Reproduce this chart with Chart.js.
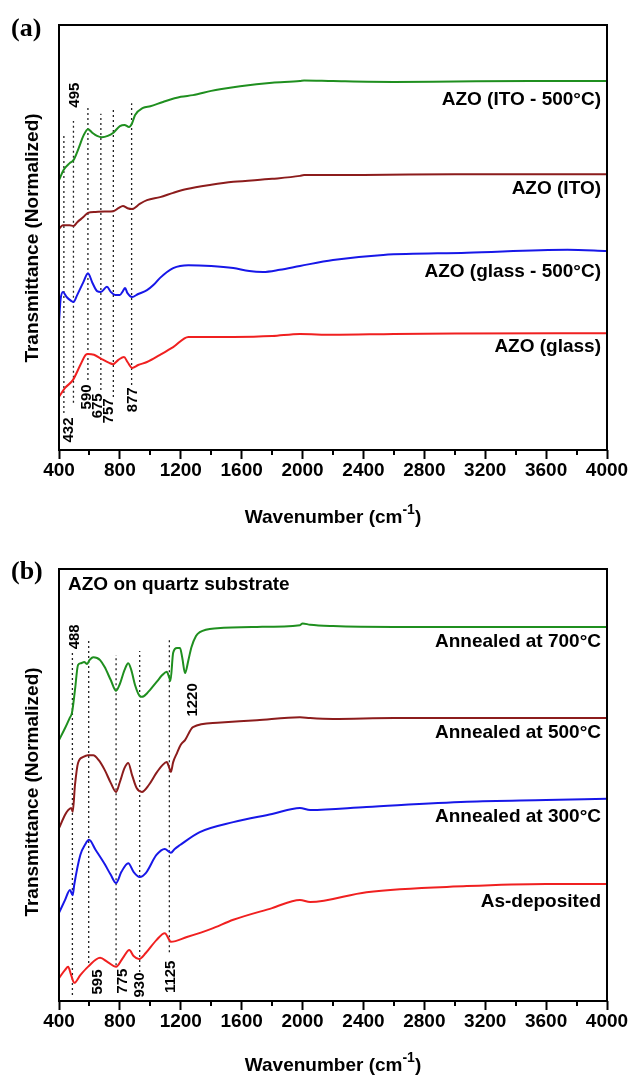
<!DOCTYPE html>
<html>
<head>
<meta charset="utf-8">
<script src="https://cdn.jsdelivr.net/npm/chart.js@4.4.0/dist/chart.umd.min.js"></script>
<style>
  body { margin: 0; background: #fff; width: 630px; height: 1077px; overflow: hidden; }
  .panel { position: absolute; left: 0; width: 630px; }
  #wrapA { top: 0; height: 540px; }
  #wrapB { top: 540px; height: 537px; }
</style>
</head>
<body>
<div class="panel" id="wrapA"><canvas id="chartA" width="630" height="540"></canvas></div>
<div class="panel" id="wrapB"><canvas id="chartB" width="630" height="537"></canvas></div>
<script>
// ---------- panel (a): AZO on glass / ITO ----------
const wnA_ito500 = [400, 430, 470, 495, 530, 560, 590, 620, 650, 682, 720, 755, 800, 830, 860, 880, 900, 952, 1000, 1083, 1200, 1280, 1400, 1458, 1590, 1800, 1983, 2010, 2200, 2600, 3000, 3500, 4000];
const tA_ito500  = [63.5, 65.9, 67.5, 68.2, 71.1, 73.9, 75.5, 74.6, 73.9, 73.6, 73.9, 74.6, 76.2, 76.5, 76.0, 76.9, 78.8, 80.5, 80.9, 81.9, 83.1, 83.5, 84.5, 84.9, 85.6, 86.4, 86.8, 86.95, 86.8, 86.6, 86.7, 86.8, 86.8];

const wnA_ito = [400, 425, 470, 495, 520, 560, 590, 640, 700, 757, 790, 820, 850, 880, 930, 978, 1064, 1150, 1240, 1400, 1545, 1800, 1983, 2010, 2400, 3000, 4000];
const tA_ito  = [52.0, 52.9, 52.9, 52.7, 53.6, 54.8, 55.8, 56.0, 56.1, 56.2, 56.9, 57.4, 56.9, 56.7, 57.9, 58.8, 59.5, 60.5, 61.4, 62.4, 63.1, 63.8, 64.5, 64.7, 64.7, 64.9, 64.9];

const wnA_glass500 = [400, 410, 426, 450, 480, 495, 520, 560, 590, 620, 650, 675, 715, 740, 768, 800, 820, 834, 850, 880, 920, 978, 1020, 1064, 1150, 1250, 1400, 1545, 1650, 1740, 1850, 1983, 2200, 2530, 3080, 3740, 4000];
const tA_glass500  = [30.1, 35.3, 37.2, 36.0, 35.1, 34.8, 36.5, 39.5, 41.6, 39.3, 37.4, 37.2, 38.4, 37.2, 36.5, 36.5, 37.4, 38.1, 36.9, 36.0, 36.7, 37.6, 38.8, 40.5, 42.8, 43.5, 43.3, 42.8, 42.1, 41.9, 42.4, 43.3, 44.7, 45.9, 46.4, 47.1, 46.8];

const wnA_glass = [400, 440, 492, 540, 575, 590, 630, 680, 730, 755, 790, 827, 850, 880, 920, 978, 1064, 1150, 1250, 1545, 1800, 1983, 2200, 2600, 3000, 4000];
const tA_glass  = [12.5, 14.6, 16.5, 20.0, 22.4, 22.6, 22.4, 21.4, 20.5, 20.2, 21.2, 21.9, 20.7, 19.3, 20.0, 20.7, 22.4, 24.2, 26.6, 26.6, 26.8, 27.3, 27.1, 27.3, 27.4, 27.5];

const namesA  = ['AZO (ITO - 500°C)', 'AZO (ITO)', 'AZO (glass - 500°C)', 'AZO (glass)'];
const peaksA      = [432, 495, 590, 675, 757, 877];
const peakTopA    = [74.1, 77.4, 80.9, 79.1, 80.7, 81.6];
const peakBottomA = [8.7, 11.1, 16.5, 14.1, 12.5, 15.3];

// ---------- panel (b): AZO on quartz ----------
const wnB_700 = [400, 440, 470, 485, 505, 525, 545, 565, 585, 600, 625, 650, 670, 700, 740, 775, 800, 830, 855, 875, 900, 930, 945, 980, 1040, 1080, 1108, 1125, 1132, 1150, 1175, 1195, 1210, 1228, 1250, 1270, 1300, 1325, 1440, 1700, 1983, 2000, 2050, 2200, 2600, 3000, 4000];
const tB_700  = [60.4, 63.2, 65.5, 66.7, 72.0, 77.8, 78.2, 78.5, 78.0, 78.9, 79.6, 79.4, 78.9, 77.3, 74.3, 71.8, 73.4, 76.6, 78.2, 76.6, 73.1, 70.6, 70.4, 71.3, 73.8, 75.5, 76.2, 74.8, 74.1, 80.6, 81.7, 81.7, 79.4, 75.9, 78.9, 81.9, 84.5, 85.4, 86.3, 86.6, 87.0, 87.4, 87.1, 86.8, 86.6, 86.6, 86.6];

const wnB_500 = [400, 440, 460, 480, 490, 505, 525, 560, 590, 625, 660, 700, 740, 775, 800, 830, 855, 880, 910, 945, 990, 1040, 1080, 1108, 1125, 1135, 1150, 1175, 1200, 1228, 1280, 1440, 1700, 1983, 2050, 2200, 2600, 3000, 4000];
const tB_500  = [40.0, 43.1, 44.2, 44.7, 43.8, 50.0, 55.1, 56.5, 56.9, 56.9, 55.8, 53.5, 50.5, 48.4, 50.7, 53.9, 55.1, 52.3, 49.3, 48.4, 50.0, 52.8, 54.6, 55.3, 53.9, 53.0, 55.3, 57.4, 59.3, 60.4, 63.4, 64.4, 65.0, 65.7, 65.5, 65.3, 65.5, 65.5, 65.5];

const wnB_300 = [400, 440, 472, 490, 500, 540, 570, 597, 640, 700, 740, 775, 810, 855, 890, 930, 970, 1040, 1095, 1125, 1135, 1160, 1195, 1325, 1545, 1800, 1983, 2050, 2420, 3080, 3600, 4000];
const tB_300  = [20.4, 23.4, 25.7, 24.5, 26.9, 33.8, 36.1, 37.3, 35.0, 31.7, 29.2, 27.3, 29.9, 31.9, 29.9, 28.7, 29.6, 33.8, 35.2, 34.5, 34.3, 35.2, 36.1, 39.1, 41.4, 43.3, 44.7, 44.2, 44.9, 46.1, 46.5, 46.8];

const wnB_asdep = [400, 440, 460, 480, 500, 540, 590, 670, 720, 775, 820, 862, 890, 925, 970, 1040, 1095, 1125, 1135, 1240, 1400, 1545, 1800, 1983, 2050, 2420, 3080, 3600, 4000];
const tB_asdep  = [5.3, 7.2, 7.9, 6.0, 4.2, 6.0, 7.9, 10.0, 9.0, 7.9, 10.0, 11.8, 10.4, 9.7, 11.1, 14.1, 15.7, 14.1, 13.7, 14.8, 16.7, 18.8, 21.5, 23.4, 22.9, 25.2, 26.6, 27.1, 27.1];

const namesB  = ['Annealed at 700°C', 'Annealed at 500°C', 'Annealed at 300°C', 'As-deposited'];
const peaksB      = [488, 595, 775, 930, 1125];
const peakTopB    = [80.8, 84.0, 80.1, 81.0, 83.8];
const peakBottomB = [1.4, 8.8, 8.3, 6.7, 11.3];

const xMin = 400, xMax = 4000, xStep = 400;
const minorTicks = [600, 1000, 1400, 1800, 2200, 2600, 3000, 3400, 3800];

const GREEN = '#1f8f1f', MAROON = '#8c1c1c', BLUE = '#1717e8', RED = '#f02020';
const SANS = '"Liberation Sans", Arial, sans-serif';

function series(wn, t, color) {
    return {
        data: wn.map((w, i) => ({ x: w, y: t[i] })),
        borderColor: color,
        borderWidth: 2,
        pointRadius: 0,
        cubicInterpolationMode: 'monotone',
        fill: false
    };
}

function dottedLines(wn, top, bottom) {
    return wn.map((w, i) => ({
        data: [{ x: w, y: bottom[i] }, { x: w, y: top[i] }],
        borderColor: '#222',
        borderWidth: 1.3,
        borderDash: [2, 3],
        pointRadius: 0
    }));
}

// draws frame, minor ticks and all text
function makeDecor(info) {
    return {
        id: 'decor',
        afterDraw(chart) {
            const ctx = chart.ctx;
            const area = chart.chartArea;
            const xs = chart.scales.x;
            const ys = chart.scales.y;
            ctx.save();

            ctx.strokeStyle = '#000';
            ctx.lineWidth = 2;
            ctx.strokeRect(area.left, area.top, area.right - area.left, area.bottom - area.top);
            ctx.beginPath();
            minorTicks.forEach(v => {
                const px = Math.round(xs.getPixelForValue(v));
                ctx.moveTo(px, area.bottom);
                ctx.lineTo(px, area.bottom + 5);
            });
            ctx.stroke();

            ctx.fillStyle = '#000';
            ctx.font = 'bold 26px "Liberation Serif", "Times New Roman", serif';
            ctx.textAlign = 'left';
            ctx.textBaseline = 'middle';
            ctx.fillText(info.panel, 11, info.panelY);

            // y title
            ctx.save();
            ctx.translate(33, info.yTitleY);
            ctx.rotate(-Math.PI / 2);
            ctx.font = 'bold 19px ' + SANS;
            ctx.textAlign = 'center';
            ctx.fillText('Transmittance (Normalized)', 0, 0);
            ctx.restore();

            // x title with superscript
            ctx.font = 'bold 19px ' + SANS;
            const t1 = 'Wavenumber (cm', t2 = '-1', t3 = ')';
            const w1 = ctx.measureText(t1).width;
            const w3 = ctx.measureText(t3).width;
            ctx.font = 'bold 14px ' + SANS;
            const w2 = ctx.measureText(t2).width;
            let x0 = (area.left + area.right) / 2 - (w1 + w2 + w3) / 2;
            ctx.textAlign = 'left';
            ctx.font = 'bold 19px ' + SANS;
            ctx.fillText(t1, x0, info.xTitleY);
            ctx.font = 'bold 14px ' + SANS;
            ctx.fillText(t2, x0 + w1, info.xTitleY - 8);
            ctx.font = 'bold 19px ' + SANS;
            ctx.fillText(t3, x0 + w1 + w2, info.xTitleY);

            // curve names
            ctx.font = 'bold 19px ' + SANS;
            ctx.textAlign = 'right';
            info.names.forEach((n, i) => {
                ctx.fillText(n, area.right - 6, ys.getPixelForValue(info.nameY[i]));
            });

            if (info.note) {
                ctx.textAlign = 'left';
                ctx.fillText(info.note, area.left + 9, ys.getPixelForValue(info.noteY));
            }

            // peak labels, rotated
            ctx.font = 'bold 15px ' + SANS;
            ctx.textAlign = 'center';
            info.peakLabels.forEach(p => {
                ctx.save();
                ctx.translate(xs.getPixelForValue(p[1]), ys.getPixelForValue(p[2]));
                ctx.rotate(-Math.PI / 2);
                ctx.fillText(p[0], 0, 0);
                ctx.restore();
            });
            ctx.restore();
        }
    };
}

function makeChart(canvas, datasets, topPad, axisHeight, info) {
    return new Chart(canvas, {
        type: 'line',
        data: { datasets },
        options: {
            responsive: false,
            animation: false,
            devicePixelRatio: 1,
            layout: { padding: { left: 59, right: 23, top: topPad, bottom: 0 } },
            plugins: { legend: { display: false }, tooltip: { enabled: false } },
            scales: {
                x: {
                    type: 'linear',
                    min: xMin,
                    max: xMax,
                    border: { display: false },
                    grid: { drawOnChartArea: false, drawTicks: true, tickLength: 9, tickWidth: 2, tickColor: '#000' },
                    ticks: {
                        stepSize: xStep,
                        autoSkip: false,
                        maxRotation: 0,
                        padding: 0,
                        color: '#000',
                        font: { family: SANS, size: 19, weight: 'bold' },
                        callback: v => String(v)
                    },
                    afterFit: s => { s.height = axisHeight; }
                },
                y: { display: false, min: 0, max: 100 }
            }
        },
        plugins: [makeDecor(info)]
    });
}

const datasetsA = [
    series(wnA_ito500, tA_ito500, GREEN),
    series(wnA_ito, tA_ito, MAROON),
    series(wnA_glass500, tA_glass500, BLUE),
    series(wnA_glass, tA_glass, RED)
].concat(dottedLines(peaksA, peakTopA, peakBottomA));

const datasetsB = [
    series(wnB_700, tB_700, GREEN),
    series(wnB_500, tB_500, MAROON),
    series(wnB_300, tB_300, BLUE),
    series(wnB_asdep, tB_asdep, RED)
].concat(dottedLines(peaksB, peakTopB, peakBottomB));

makeChart(document.getElementById('chartA'), datasetsA, 25, 90, {
    panel: '(a)', panelY: 29, yTitleY: 238, xTitleY: 518,
    names: namesA, nameY: [82.4, 61.4, 41.9, 24.2],
    peakLabels: [['432', 466, 4.7], ['495', 505, 83.5], ['590', 584, 12.5], ['675', 656, 10.4], ['757', 728, 9.2], ['877', 886, 11.8]]
});

makeChart(document.getElementById('chartB'), datasetsB, 29, 76, {
    panel: '(b)', panelY: 32, yTitleY: 252, xTitleY: 526,
    names: namesB, nameY: [83.1, 62.0, 42.6, 22.9],
    note: 'AZO on quartz substrate', noteY: 96.3,
    peakLabels: [['488', 505, 84.3], ['595', 656, 4.4], ['775', 820, 4.6], ['930', 932, 3.7], ['1125', 1136, 5.6], ['1220', 1280, 69.7]]
});
</script>
</body>
</html>
